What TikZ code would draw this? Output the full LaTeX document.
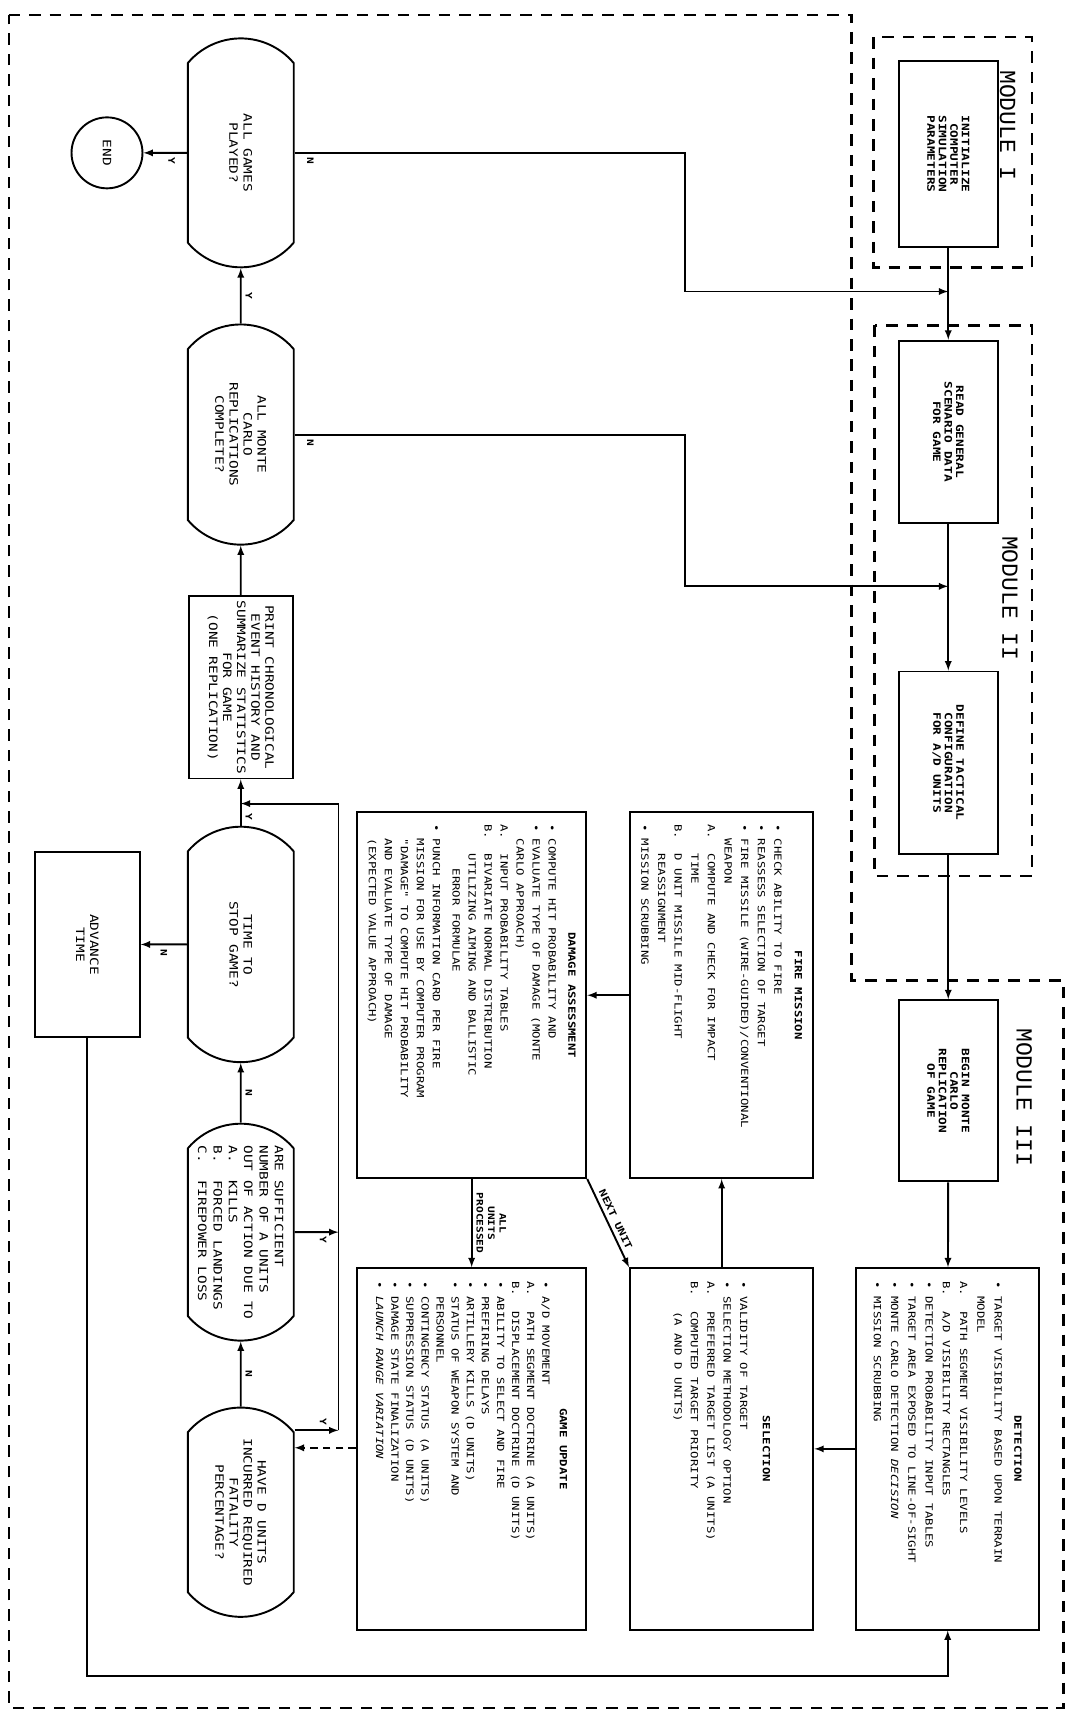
\documentclass[tikz,border=0pt]{standalone}
\usepackage{fontspec}
\usepackage{tikz}
\usetikzlibrary{shapes.misc}
\newfontfamily\typefont[FakeStretch=1.25]{DejaVu Sans Mono}
\newfontfamily\modfont{Liberation Mono}
\newcommand{\cont}{\phantom{•\ }}
\newcommand{\boxtext}[3]{\parbox{#1}{\fontsize{7.7}{#2}\selectfont\raggedright #3}}

\begin{document}
\begin{tikzpicture}[x=0.03cm,y=-0.03cm,>=latex,line width=1.5pt]
\tikzstyle{procbox}=[draw,rotate=-90,align=center,inner sep=2pt,minimum width=5.01cm,minimum height=2.73cm,font=\typefont\bfseries\fontsize{8}{9}\selectfont]
\tikzstyle{listbox}=[draw,rotate=-90,inner sep=4pt,font=\typefont]
\tikzstyle{decision}=[draw,rotate=-90,rounded rectangle,rounded rectangle arc length=100,align=center,inner sep=1pt,minimum height=2.91cm,font=\typefont\fontsize{9}{11}\selectfont]
\tikzstyle{lbl}=[rotate=-90,inner sep=3pt,font=\typefont\bfseries\fontsize{7}{8}\selectfont]
\tikzstyle{modline}=[line width=1.8pt,dash pattern=on 9pt off 7pt]
\tikzstyle{modlabel}=[rotate=-90,font=\modfont\fontsize{18}{20}\selectfont]

\path[use as bounding box,fill=white] (0,0) rectangle (981,1568);

% module outlines
\draw[modline] (8,14) -- (780,14) -- (780,898) -- (974,898) -- (974,1564) -- (8,1564) -- cycle;
\draw[modline] (800,34) rectangle (945,245);
\draw[modline] (801,298) rectangle (945,802);
\node[modlabel] (modi) at (923,115) {MODULE I};
\node[modlabel] (modii) at (925,548) {MODULE II};
\node[modlabel] (modiii) at (938,1005) {MODULE III};

% main line
\node[procbox,minimum width=5.1cm] (init) at (868.5,141) {INITIALIZE\\COMPUTER\\SIMULATION\\PARAMETERS};
\node[procbox] (read) at (868.5,395.5) {READ GENERAL\\SCENARIO DATA\\FOR GAME};
\node[procbox] (define) at (868.5,698.5) {DEFINE TACTICAL\\CONFIGURATION\\FOR A/D UNITS};
\node[procbox,minimum width=4.98cm] (begin) at (868.5,999) {BEGIN MONTE\\CARLO\\REPLICATION\\OF GAME};

\node[listbox,minimum width=9.93cm,minimum height=5.04cm] (detect) at (868,1327) {\boxtext{9.2cm}{13.5pt}{%
{\centering\bfseries DETECTION\par}\vspace{2pt}
• TARGET VISIBILITY BASED UPON TERRAIN\\
\cont MODEL\\
A.\ \ PATH SEGMENT VISIBILITY LEVELS\\
B.\ \ A/D VISIBILITY RECTANGLES\\
• DETECTION PROBABILITY INPUT TABLES\\
• TARGET AREA EXPOSED TO LINE-OF-SIGHT\\
• MONTE CARLO DETECTION {\itshape DECISION}\\
• MISSION SCRUBBING}};

\node[listbox,minimum width=9.93cm,minimum height=5.04cm] (select) at (661,1327) {\boxtext{9.2cm}{12.8pt}{%
{\centering\bfseries SELECTION\par}\vspace{5pt}
• VALIDITY OF TARGET\\
• SELECTION METHODOLOGY OPTION\\
A.\ \ PREFERRED TARGET LIST (A UNITS)\\
B.\ \ COMPUTED TARGET PRIORITY\\
\cont\cont (A AND D UNITS)}};

\node[listbox,minimum width=10.05cm,minimum height=5.04cm] (fire) at (661,911.5) {\boxtext{9.4cm}{13pt}{%
{\centering\bfseries FIRE MISSION\par}\vspace{3pt}
• CHECK ABILITY TO FIRE\\
• REASSESS SELECTION OF TARGET\\
• FIRE MISSILE (WIRE-GUIDED)/CONVENTIONAL\\
\cont WEAPON\\
A.\ \ COMPUTE AND CHECK FOR IMPACT\\
\cont\cont TIME\\
B.\ \ D UNIT MISSILE MID-FLIGHT\\
\cont\cont REASSIGNMENT\\
• MISSION SCRUBBING}};

\node[listbox,minimum width=10.05cm,minimum height=6.3cm] (damage) at (432,911.5) {\boxtext{9.4cm}{12.5pt}{%
{\centering\bfseries DAMAGE ASSESSMENT\par}\vspace{3pt}
• COMPUTE HIT PROBABILITY AND\\
• EVALUATE TYPE OF DAMAGE (MONTE\\
\cont CARLO APPROACH)\\
A.\ \ INPUT PROBABILITY TABLES\\
B.\ \ BIVARIATE NORMAL DISTRIBUTION\\
\cont\cont UTILIZING AIMING AND BALLISTIC\\
\cont\cont\ \ ERROR FORMULAE\\[3pt]
• PUNCH INFORMATION CARD PER FIRE\\
\cont MISSION FOR USE BY COMPUTER PROGRAM\\
\cont "DAMAGE" TO COMPUTE HIT PROBABILITY\\
\cont AND EVALUATE TYPE OF DAMAGE\\
\cont (EXPECTED VALUE APPROACH)}};

\node[listbox,minimum width=9.93cm,minimum height=6.3cm] (update) at (432,1327) {\boxtext{9.2cm}{11.8pt}{%
{\centering\bfseries GAME UPDATE\par}\vspace{2pt}
• A/D MOVEMENT\\
A.\ \ PATH SEGMENT DOCTRINE (A UNITS)\\
B.\ \ DISPLACEMENT DOCTRINE (D UNITS)\\
• ABILITY TO SELECT AND FIRE\\
• PREFIRING DELAYS\\
• ARTILLERY KILLS (D UNITS)\\
• STATUS OF WEAPON SYSTEM AND\\
\cont PERSONNEL\\
• CONTINGENCY STATUS (A UNITS)\\
• SUPPRESSION STATUS (D UNITS)\\
• DAMAGE STATE FINALIZATION\\
• {\itshape LAUNCH RANGE VARIATION}}};

% end of game loop
\node[decision,minimum width=6.36cm] (games) at (220.5,140) {ALL GAMES\\PLAYED?};
\node[draw,circle,rotate=-90,minimum size=1.95cm,inner sep=1pt,font=\typefont\fontsize{9}{11}\selectfont] (end) at (98,140) {END};
\node[decision,minimum width=6.12cm] (monte) at (220.5,398) {ALL MONTE\\CARLO\\REPLICATIONS\\COMPLETE?};
\node[procbox,minimum width=5.01cm,minimum height=2.85cm,font=\typefont\fontsize{9}{11}\selectfont] (print) at (220.5,629.5) {PRINT CHRONOLOGICAL\\EVENT HISTORY AND\\SUMMARIZE STATISTICS\\FOR GAME\\(ONE REPLICATION)};
\node[decision,minimum width=6.54cm] (time) at (220.5,865) {TIME TO\\STOP GAME?};
\node[procbox,minimum width=5.1cm,minimum height=2.88cm,font=\typefont\fontsize{9}{11}\selectfont] (advance) at (80,865) {ADVANCE\\TIME};
\node[decision,minimum width=6.03cm,align=left,font=\typefont\fontsize{9}{12}\selectfont] (suff) at (220.5,1128.5) {ARE SUFFICIENT\\NUMBER OF A UNITS\\OUT OF ACTION DUE TO\\A.\ \ KILLS\\B.\ \ FORCED LANDINGS\\C.\ \ FIREPOWER LOSS};
\node[decision,minimum width=5.82cm] (have) at (220.5,1385) {HAVE D UNITS\\INCURRED REQUIRED\\FATALITY\\PERCENTAGE?};

\coordinate (nb1) at (627,267);
\coordinate (j1) at (868.5,267);
\coordinate (nb2) at (627,537);
\coordinate (j2) at (868.5,537);
\coordinate (lp) at (868,1535);
\coordinate (yb1) at (310,1128.5);
\coordinate (yb2) at (310,1310);
\coordinate (yb3) at (310,736);
\coordinate (yj) at (220.5,736);
\coordinate (dj) at (300,1326);

\path[->]
    (init) edge (read)
    (read) edge (define)
    (define) edge (begin)
    (begin) edge (detect)
    (detect) edge (select)
    (select) edge (fire)
    (fire) edge (damage)
    (damage) edge node[lbl,anchor=south,align=center,font=\typefont\bfseries\fontsize{7}{9}\selectfont] {ALL\\UNITS\\PROCESSED} (update)
    (damage.north east) edge node[sloped,above,inner sep=3pt,font=\typefont\bfseries\fontsize{7.5}{9}\selectfont] {NEXT UNIT} (select.south west);
\path[->]
    (games) edge node[lbl,anchor=west,pos=.35] {Y} (end)
    (monte) edge node[lbl,anchor=south] {Y} (games)
    (print) edge (monte)
    (time) edge node[lbl,anchor=south,pos=.2] {Y} (print)
    (suff) edge node[lbl,anchor=south] {N} (time)
    (have) edge node[lbl,anchor=south] {N} (suff)
    (time) edge node[lbl,anchor=west] {N} (advance);

\draw[->] (games) -| node[lbl,anchor=west,pos=.02] {N} (nb1) -- (j1);
\draw[->] (monte) -| node[lbl,anchor=west,pos=.02] {N} (nb2) -- (j2);
\draw[->] (advance) |- (lp) -- (detect);
\draw[->] (suff) -- node[lbl,anchor=west,pos=.65] {Y} (yb1);
\draw[->] (have.north |- yb2) -- node[lbl,anchor=east,pos=.65] {Y} (yb2);
\draw[->] (yb2) -- (yb3) -- (yj);
\draw[->,dash pattern=on 6pt off 4pt] (update.south |- dj) -- (have.north |- dj);
\end{tikzpicture}
\end{document}
